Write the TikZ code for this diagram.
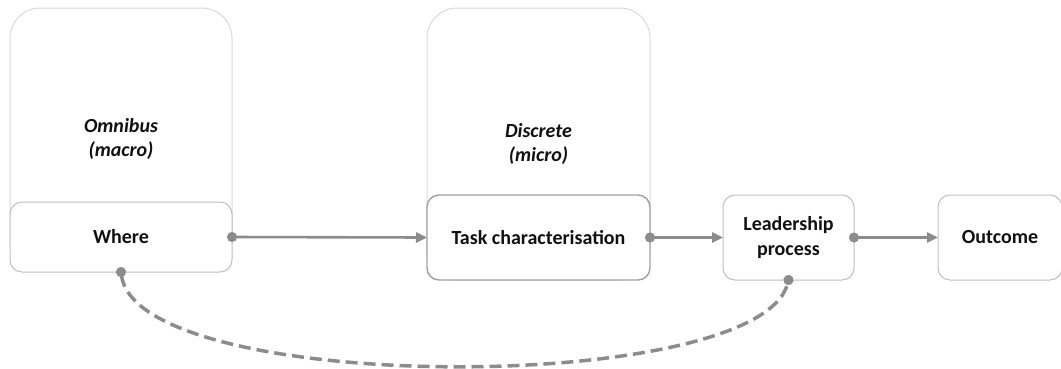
\documentclass[tikz,border=0pt]{standalone}
\usepackage{fontspec}
\setmainfont{Carlito}
\usepackage{tikz}
\usetikzlibrary{arrows.meta}
\definecolor{frame}{HTML}{D9D9D9}
\definecolor{boxline}{HTML}{BFBFBF}
\definecolor{taskline}{HTML}{A0A0A0}
\definecolor{link}{HTML}{8C8C8C}
\definecolor{ink}{HTML}{111111}
\newcommand{\labelsize}{\fontsize{20}{24.5}\selectfont}
\tikzstyle{level} = [draw=frame, line width=1pt, rounded corners=30pt, fill=white, inner sep=0pt, outer sep=0pt, align=center, font=\labelsize\bfseries\itshape]
\tikzstyle{stage} = [draw=boxline, line width=1pt, rounded corners=12pt, fill=white, inner sep=0pt, outer sep=0pt, align=center, font=\labelsize\bfseries]
\tikzstyle{flow} = [draw=link, line width=2.6pt, shorten <=-5pt, {Circle[length=10pt]}-{Triangle[length=11pt,width=10pt]}]

\begin{document}
\begin{tikzpicture}[x=1pt,y=-1pt,text=ink]
    \useasboundingbox (0,0) rectangle (1061,368);

    %levels
    \node[level, minimum width=222pt, minimum height=262pt] at (121,139) (omni) {Omnibus\\(macro)};
    \node[level, minimum width=223pt, minimum height=272pt] at (538.5,144) (disc) {Discrete\\(micro)};

    %stages
    \node[stage, minimum width=222pt, minimum height=70pt] at (121,237) (where) {Where};
    \node[stage, draw=taskline, line width=1.4pt, minimum width=223pt, minimum height=85pt] at (538.5,237.5) (task) {Task characterisation};
    \node[stage, minimum width=131pt, minimum height=85pt] at (788.5,237.5) (lead) {Leadership\\process};
    \node[stage, minimum width=124pt, minimum height=85pt] at (1000,237.5) (out) {Outcome};

    %links
    \draw[flow] (where.east) -- (task.west);
    \draw[flow] (task.east) -- (lead.west);
    \draw[flow] (lead.east) -- (out.west);
    \draw[draw=link, line width=3.5pt, dash pattern=on 12pt off 6pt, shorten <=-5pt, shorten >=-5pt, {Circle[length=10pt]}-{Circle[length=10pt]}]
      (where.south) .. controls (137,396) and (760,396) .. (lead.south);

\end{tikzpicture}
\end{document}
